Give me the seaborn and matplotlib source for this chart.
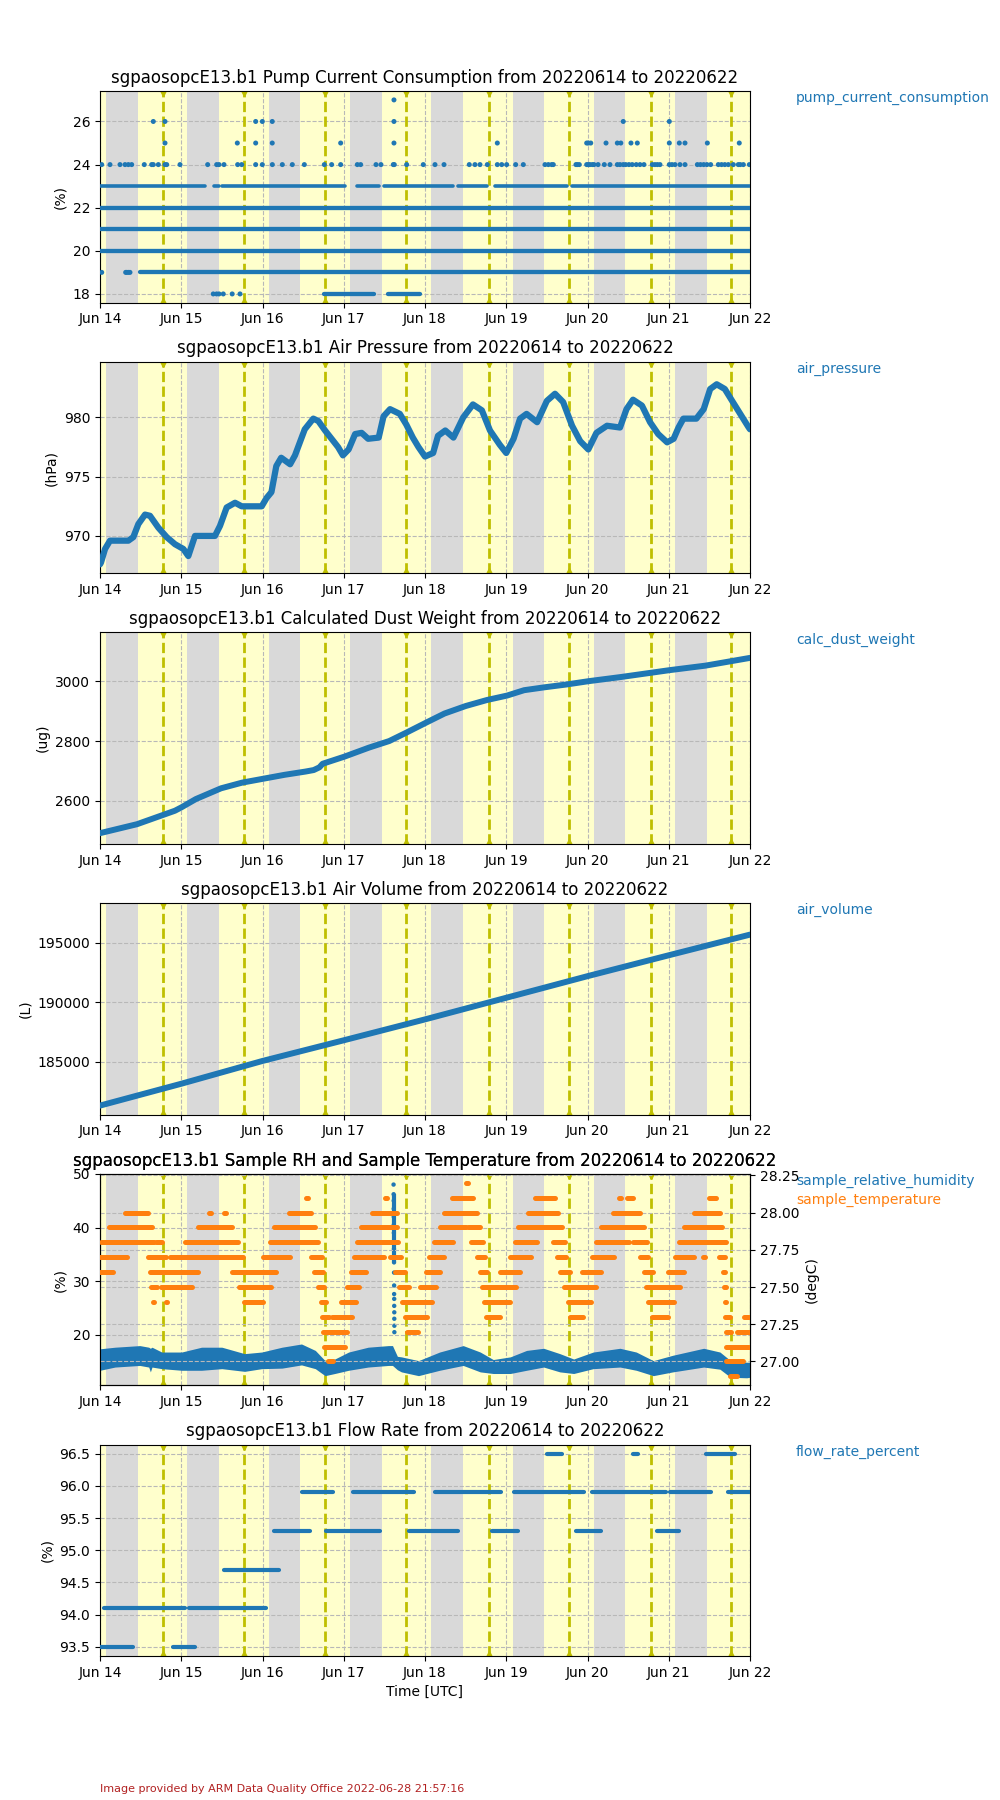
import numpy as np
import pandas as pd
import seaborn as sns
import matplotlib
matplotlib.use("Agg")
import matplotlib.pyplot as plt
import matplotlib.dates as mdates
from matplotlib.ticker import MultipleLocator, FormatStrFormatter

# all times are days after 2022-06-14 00:00 UTC
t_start = "2022-06-14"
t_end = "2022-06-22"

# night (gray) spans and solar noon
night_start = [0.068, 1.073, 2.075, 3.077, 4.072, 5.078, 6.078, 7.078]
night_end = [0.466, 1.466, 2.462, 3.470, 4.462, 5.470, 6.462, 7.470]
solar_noon = [0.777, 1.777, 2.772, 3.772, 4.782, 5.777, 6.777, 7.772]

# pump current consumption (%)
pump_levels = [18, 19, 20, 21, 22, 23]
pump_starts = [[2.76, 3.54], [0.492], [0.0], [0.0], [0.0],
               [0.0, 1.40, 1.50, 3.16, 3.49, 4.41, 4.86, 5.81]]
pump_ends = [[3.37, 3.94], [8.0], [8.0], [8.0], [8.0],
             [1.29, 1.46, 3.015, 3.43, 4.35, 4.76, 5.745, 8.0]]
pump_18_pts = [1.394, 1.435, 1.465, 1.517, 1.627, 1.723]
pump_19_pts = [0.021, 0.316, 0.33, 0.35, 0.369]
pump_24_pts = [0.021, 0.123, 0.246, 0.308, 0.349, 0.390, 0.545, 0.636, 0.656, 0.718,
               0.80, 0.821, 0.985, 1.325, 1.436, 1.465, 1.526, 1.694, 1.744, 1.916,
               1.998, 2.121, 2.244, 2.367, 2.515, 2.761, 2.851, 2.962, 3.167, 3.208,
               3.397, 3.458, 3.610, 3.622, 3.774, 3.979, 4.123, 4.234, 4.545, 4.615,
               4.677, 4.767, 4.890, 4.944, 5.005, 5.116, 5.21, 5.477, 5.518, 5.559,
               5.579, 5.858, 5.875, 5.899, 5.99, 6.01, 6.03, 6.06, 6.08, 6.13,
               6.207, 6.277, 6.367, 6.40, 6.44, 6.47, 6.51, 6.55, 6.60, 6.646,
               6.695, 6.798, 6.83, 6.86, 6.892, 7.007, 7.04, 7.077, 7.138, 7.2,
               7.352, 7.39, 7.43, 7.47, 7.516, 7.61, 7.65, 7.69, 7.733, 7.795,
               7.856, 7.88, 7.918, 7.992]
pump_25_pts = [0.80, 1.69, 1.916, 2.12, 2.962, 3.618, 4.89, 5.99, 6.01, 6.04,
               6.228, 6.367, 6.41, 6.535, 6.613, 7.007, 7.13, 7.2, 7.475, 7.868]
pump_26_pts = [0.656, 0.80, 1.916, 1.998, 2.12, 3.618, 6.44, 7.007]
pump_27_pts = [3.618]

# air pressure (hPa)
pres_t = [0.0, 0.012, 0.062, 0.123, 0.349, 0.41, 0.472, 0.554, 0.615, 0.718,
          0.821, 0.923, 1.026, 1.087, 1.128, 1.169, 1.415, 1.477, 1.559, 1.662,
          1.744, 1.99, 2.05, 2.11, 2.17, 2.23, 2.34, 2.40, 2.46, 2.52,
          2.625, 2.687, 2.77, 2.85, 2.93, 2.99, 3.06, 3.14, 3.22, 3.30,
          3.43, 3.49, 3.57, 3.69, 3.77, 3.85, 3.92, 4.0, 4.10, 4.16,
          4.25, 4.35, 4.47, 4.59, 4.70, 4.80, 4.92, 5.0, 5.09, 5.17,
          5.25, 5.38, 5.50, 5.60, 5.70, 5.81, 5.91, 6.01, 6.11, 6.24,
          6.40, 6.48, 6.56, 6.67, 6.77, 6.87, 6.98, 7.06, 7.12, 7.18,
          7.34, 7.43, 7.51, 7.59, 7.69, 7.78, 7.88, 7.98, 8.0]
pres_v = [967.6, 967.75, 968.9, 969.6, 969.6, 969.9, 971.0, 971.8, 971.7, 970.7,
          969.9, 969.3, 968.9, 968.3, 969.15, 970.0, 970.0, 970.85, 972.4, 972.8,
          972.5, 972.5, 973.2, 973.7, 975.9, 976.6, 976.05, 976.8, 977.9, 979.0,
          979.9, 979.7, 978.9, 978.2, 977.5, 976.8, 977.3, 978.6, 978.7, 978.2,
          978.3, 980.1, 980.7, 980.3, 979.4, 978.3, 977.5, 976.7, 977.0, 978.45,
          978.9, 978.3, 980.0, 981.1, 980.6, 978.9, 977.7, 977.0, 978.2, 979.9,
          980.3, 979.6, 981.4, 982.0, 981.3, 979.3, 978.0, 977.3, 978.7, 979.3,
          979.15, 980.7, 981.5, 981.0, 979.6, 978.6, 977.9, 978.2, 979.15, 979.9,
          979.9, 980.7, 982.4, 982.8, 982.4, 981.4, 980.3, 979.2, 979.0]

# calculated dust weight (ug)
dust_t = [0, 0.456, 0.922, 1.0, 1.18, 1.49, 1.75, 2.01, 2.27, 2.53,
          2.63, 2.70, 2.74, 3.01, 3.31, 3.56, 3.77, 4.01, 4.24, 4.5,
          4.76, 5.01, 5.22, 5.48, 5.74, 6.01, 6.41, 7.01, 7.45, 8.0]
dust_v = [2492, 2522, 2567, 2578, 2606, 2642, 2661, 2674, 2687, 2698,
          2703, 2712, 2724, 2748, 2778, 2800, 2828, 2861, 2892, 2917,
          2937, 2952, 2970, 2980, 2989, 3000, 3014, 3037, 3052, 3078]

# air volume (L)
vol_t = [0, 1, 2, 3, 4, 5, 6, 7, 8]
vol_v = [181300, 183140, 185060, 186800, 188560, 190380, 192200, 193960, 195700]

# sample RH (%) band edges
rh_t = [0.0, 0.185, 0.49, 0.60, 0.62, 0.64, 0.76, 1.005, 1.25, 1.5,
        1.78, 1.99, 2.24, 2.48, 2.65, 2.77, 2.89, 3.06, 3.30, 3.55,
        3.60, 3.66, 3.71, 3.92, 4.18, 4.47, 4.68, 4.84, 5.05, 5.25,
        5.46, 5.66, 5.83, 6.07, 6.40, 6.6, 6.81, 7.05, 7.43, 7.63,
        7.76, 7.96, 8.0]
rh_hi = [17.4, 17.7, 18.0, 17.7, 17.5, 17.7, 16.8, 16.8, 17.7, 17.7,
         16.5, 16.8, 17.7, 18.3, 17.1, 15.2, 15.5, 16.8, 17.7, 18.0,
         18.0, 16.0, 15.9, 15.2, 16.8, 18.0, 16.8, 15.4, 15.9, 17.1,
         17.5, 16.5, 15.5, 16.8, 17.5, 16.8, 15.2, 16.2, 17.5, 16.8,
         15.2, 14.9, 14.9]
rh_lo = [13.4, 14.0, 14.3, 14.0, 13.1, 14.0, 13.7, 13.4, 13.4, 13.7,
         13.2, 13.7, 13.8, 14.4, 13.7, 12.4, 12.8, 13.4, 14.0, 14.3,
         14.3, 13.5, 13.1, 12.4, 13.4, 14.3, 13.1, 12.8, 12.8, 13.4,
         14.0, 13.1, 12.8, 13.7, 14.0, 13.4, 12.4, 13.1, 14.0, 13.6,
         12.1, 12.0, 12.1]
spike_t = [3.613, 3.614, 3.615, 3.615, 3.616, 3.616, 3.617, 3.617, 3.618, 3.618,
           3.619, 3.619, 3.620, 3.620, 3.621, 3.621, 3.622, 3.622, 3.623, 3.623]
spike_v = [48.0, 46.2, 45.0, 43.5, 42.0, 40.5, 39.0, 37.5, 36.0, 34.5,
           33.5, 31.6, 29.2, 27.6, 26.7, 25.4, 24.2, 23.0, 21.7, 20.5]

# sample temperature (degC), 0.1 degC steps
temp_levels = [28.2, 28.1, 28.0, 27.9, 27.8, 27.7, 27.6, 27.5, 27.4, 27.3, 27.2, 27.1, 27.0, 26.9]
temp_starts = [
    [4.51],
    [2.54, 3.51, 4.33, 5.35, 6.39, 6.49, 7.49],
    [0.31, 1.34, 1.53, 2.33, 3.35, 4.23, 5.27, 6.31, 7.31],
    [0.11, 1.20, 2.14, 3.21, 4.18, 4.53, 5.15, 6.17, 7.19],
    [0.01, 0.69, 1.05, 2.09, 3.16, 4.11, 4.57, 5.11, 5.57, 6.11, 6.56, 7.12, 7.51],
    [0.0, 0.59, 0.86, 2.01, 2.60, 3.13, 3.57, 4.05, 4.64, 5.05, 5.62, 6.06, 6.64, 7.08, 7.42, 7.62],
    [0.0, 0.62, 1.62, 2.63, 3.09, 3.63, 4.01, 4.68, 4.92, 5.66, 5.93, 6.70, 6.99, 7.67],
    [0.63, 0.75, 1.71, 2.68, 3.04, 3.68, 3.94, 4.70, 5.71, 6.72, 7.68],
    [0.65, 0.81, 1.77, 2.72, 2.97, 3.72, 4.73, 5.76, 6.74, 7.69],
    [2.73, 2.86, 3.75, 4.75, 5.79, 6.79, 7.69, 7.93],
    [2.75, 3.78, 7.70, 7.84],
    [2.76, 7.70],
    [2.80, 7.71],
    [7.75],
]
temp_ends = [
    [4.53],
    [2.56, 3.53, 4.59, 5.60, 6.41, 6.56, 7.58],
    [0.59, 1.36, 1.55, 2.60, 3.65, 4.64, 5.64, 6.64, 7.63],
    [0.64, 1.62, 2.65, 3.65, 4.51, 4.68, 5.68, 6.69, 7.66],
    [0.66, 0.76, 1.70, 2.68, 3.67, 4.35, 4.71, 5.38, 5.72, 6.51, 6.73, 7.49, 7.71],
    [0.33, 0.81, 1.76, 2.34, 2.73, 3.50, 3.71, 4.23, 4.74, 5.30, 5.74, 6.32, 6.75, 7.31, 7.44, 7.69],
    [0.16, 1.20, 2.17, 2.75, 3.27, 3.76, 4.18, 4.76, 5.17, 5.79, 6.17, 6.80, 7.19, 7.69],
    [0.70, 1.13, 2.11, 2.76, 3.19, 3.80, 4.14, 5.12, 6.11, 7.14, 7.70],
    [0.67, 0.83, 2.01, 2.78, 3.15, 4.08, 5.04, 6.04, 7.07, 7.71],
    [2.82, 3.10, 4.02, 4.92, 5.94, 6.99, 7.75, 8.0],
    [3.04, 3.91, 7.77, 8.0],
    [3.01, 8.0],
    [2.87, 7.92],
    [7.84],
]

# flow rate (%)
flow_levels = [93.5, 94.1, 94.7, 95.3, 95.9, 96.5]
flow_starts = [[0.0, 0.90], [0.05, 1.09], [1.52],
               [2.14, 2.78, 3.80, 4.83, 5.86, 6.85],
               [2.48, 3.11, 4.12, 5.09, 6.06, 7.01, 7.73],
               [5.50, 6.56, 7.46]]
flow_ends = [[0.40, 1.17], [1.04, 2.04], [2.20],
             [2.58, 3.44, 4.41, 5.15, 6.16, 7.12],
             [2.87, 3.86, 4.94, 5.96, 6.96, 7.52, 8.0],
             [5.69, 6.62, 7.81]]

BLUE = "#1f77b4"
ORANGE = "#ff7f0e"
GRAY = "#d9d9d9"
DAY = "#ffffcc"


def when(days):
    stamps = pd.Timestamp(t_start) + pd.to_timedelta(np.asarray(days, dtype=float), unit="D")
    return mdates.date2num(stamps)


def decorate(ax):
    ax.set_facecolor(DAY)
    for a, b in zip(when(night_start), when(night_end)):
        ax.axvspan(a, b, color=GRAY, lw=0, zorder=0.2)
    noon = when(solar_noon)
    for n in noon:
        ax.axvline(n, color="y", ls="--", lw=2, zorder=1.6)
    tr = ax.get_xaxis_transform()
    ax.plot(noon, [1.0] * len(noon), "v", color="y", ms=7, transform=tr, zorder=1.6)
    ax.plot(noon, [0.0] * len(noon), "^", color="y", ms=7, transform=tr, zorder=1.6)
    ax.grid(True, color="#b8b8b8", ls="--", lw=0.8)
    ax.set_xlim(mdates.date2num(pd.Timestamp(t_start)), mdates.date2num(pd.Timestamp(t_end)))
    ax.xaxis.set_major_locator(mdates.DayLocator())
    ax.xaxis.set_major_formatter(mdates.DateFormatter("%b %d"))
    ax.set_xlabel("")


def segments(ax, levels, starts, ends, color, lw):
    for lvl, s0, s1 in zip(levels, starts, ends):
        ax.hlines([lvl] * len(s0), when(s0), when(s1), colors=color, lw=lw,
                  capstyle="round", zorder=3)


def dots(ax, days, values, color=BLUE, s=13):
    sns.scatterplot(x=when(days), y=values, ax=ax, color=color, s=s,
                    edgecolor="none", linewidth=0, zorder=3)


sns.set_style("ticks")
plt.rcParams["font.family"] = ["DejaVu Sans"]
plt.rcParams["axes.axisbelow"] = "line"
plt.rcParams["axes.edgecolor"] = "black"
plt.rcParams["xtick.color"] = "black"
plt.rcParams["ytick.color"] = "black"
plt.rcParams["text.color"] = "black"
plt.rcParams["axes.labelcolor"] = "black"

fig = plt.figure(figsize=(10, 18), dpi=100)
gs = fig.add_gridspec(6, 1, left=0.1, right=0.75, top=0.9494, bottom=0.08, hspace=0.28)
axes = [fig.add_subplot(gs[i]) for i in range(6)]
period = "from 20220614 to 20220622"

# 1 pump current
ax = axes[0]
decorate(ax)
segments(ax, pump_levels[:5], pump_starts[:5], pump_ends[:5], BLUE, 3.1)
segments(ax, pump_levels[5:], pump_starts[5:], pump_ends[5:], BLUE, 2.6)
for pts, lvl in [(pump_18_pts, 18), (pump_19_pts, 19), (pump_24_pts, 24),
                 (pump_25_pts, 25), (pump_26_pts, 26), (pump_27_pts, 27)]:
    dots(ax, pts, [lvl] * len(pts))
ax.set_ylim(17.6, 27.41)
ax.yaxis.set_major_locator(MultipleLocator(2))
ax.set_ylabel("(%)")
ax.set_title(f"sgpaosopcE13.b1 Pump Current Consumption {period}")

# 2 air pressure
ax = axes[1]
decorate(ax)
sns.lineplot(x=when(pres_t), y=pres_v, ax=ax, color=BLUE, lw=4.5, estimator=None,
             sort=False, zorder=3)
ax.set_ylim(966.85, 984.7)
ax.yaxis.set_major_locator(MultipleLocator(5))
ax.set_ylabel("(hPa)")
ax.set_title(f"sgpaosopcE13.b1 Air Pressure {period}")

# 3 dust weight
ax = axes[2]
decorate(ax)
sns.lineplot(x=when(dust_t), y=dust_v, ax=ax, color=BLUE, lw=4.3, estimator=None,
             sort=False, zorder=3)
ax.set_ylim(2456, 3163)
ax.yaxis.set_major_locator(MultipleLocator(200))
ax.set_ylabel("(ug)")
ax.set_title(f"sgpaosopcE13.b1 Calculated Dust Weight {period}")

# 4 air volume
ax = axes[3]
decorate(ax)
sns.lineplot(x=when(vol_t), y=vol_v, ax=ax, color=BLUE, lw=4.3, estimator=None,
             sort=False, zorder=3)
ax.set_ylim(180540, 198350)
ax.yaxis.set_major_locator(MultipleLocator(5000))
ax.set_ylabel("(L)")
ax.set_title(f"sgpaosopcE13.b1 Air Volume {period}")

# 5 RH and temperature
ax = axes[4]
decorate(ax)
ax.fill_between(when(rh_t), rh_lo, rh_hi, color=BLUE, lw=0, zorder=3)
dots(ax, spike_t, spike_v, s=10)
ax.vlines(when([3.617]), 33.5, 46.2, colors=BLUE, lw=3, zorder=3)
ax.set_ylim(10.6, 50.0)
ax.yaxis.set_major_locator(MultipleLocator(10))
ax.set_ylabel("(%)")
title5 = f"sgpaosopcE13.b1 Sample RH and Sample Temperature {period}"
ax.set_title(title5)
ax2 = ax.twinx()
segments(ax2, temp_levels, temp_starts, temp_ends, ORANGE, 3.6)
ax2.set_ylim(26.84, 28.26)
ax2.yaxis.set_major_locator(MultipleLocator(0.25))
ax2.yaxis.set_major_formatter(FormatStrFormatter("%.2f"))
ax2.grid(True, axis="y", color="#b8b8b8", ls="--", lw=0.8)
ax2.set_ylabel("(degC)")
ax2.set_title(title5)
ax2.set_xlim(ax.get_xlim())

# 6 flow rate
ax = axes[5]
decorate(ax)
segments(ax, flow_levels, flow_starts, flow_ends, BLUE, 3.0)
ax.set_ylim(93.36, 96.64)
ax.yaxis.set_major_locator(MultipleLocator(0.5))
ax.set_ylabel("(%)")
ax.set_xlabel("Time [UTC]")
ax.set_title(f"sgpaosopcE13.b1 Flow Rate {period}")

# variable names to the right of each panel
names = ["pump_current_consumption", "air_pressure", "calc_dust_weight",
         "air_volume", "sample_relative_humidity", "flow_rate_percent"]
for ax, name in zip(axes, names):
    top = ax.get_position().y1
    fig.text(0.796, top, name, color=BLUE, fontsize=10, va="top")
fig.text(0.796, axes[4].get_position().y1 - 0.0105, "sample_temperature",
         color=ORANGE, fontsize=10, va="top")

fig.text(0.1, 0.0061, "Image provided by ARM Data Quality Office 2022-06-28 21:57:16",
         color="#b22222", fontsize=8, va="center")

fig.savefig("out.png", dpi=100)
